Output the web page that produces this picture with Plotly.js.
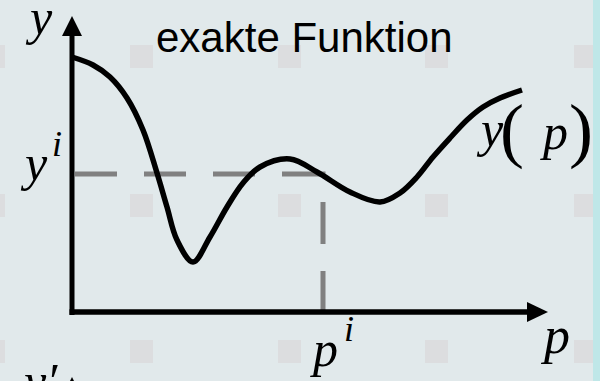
<!DOCTYPE html>
<html>
<head>
<meta charset="utf-8">
<script src="https://cdn.plot.ly/plotly-3.0.1.min.js"></script>
<style>html,body{margin:0;padding:0;background:#e1e9eb;}#chart{width:600px;height:381px;}</style>
</head>
<body>
<div id="chart"></div>
<script>
// Curve "exakte Funktion" y(p) (arbitrary units)
const pValues = [0, 2.1, 3.8, 5.5, 7.1, 8.5, 9.5, 10.5, 12.1, 13.8, 15.5, 17.1, 18.8, 21.8, 24.5, 27.8, 30.8, 32.8, 34.5, 36.1, 37.8, 39.5, 41.1, 42.8, 45.0];
const yValues = [25.5, 24.7, 23.5, 21.4, 18.2, 13.9, 10.5, 7.2, 5.0, 7.5, 10.5, 12.9, 14.5, 15.3, 14.0, 12.0, 11.0, 11.9, 13.5, 15.5, 17.4, 19.2, 20.5, 21.4, 22.2];
// Marked point (p^i, y^i)
const pI = 25.1;
const yI = 13.8;
// Labels
const titleText = "exakte Funktion";

const W = 600, H = 381;
const X = px => (px - 72) / 10;   // pixel -> data
const Y = py => (312 - py) / 10;
const fx = px => px / W, fy = py => 1 - py / H;

const traces = [
  {x: [X(75), pI, pI], y: [yI, yI, Y(310)], mode: 'lines',
   line: {color: '#808080', width: 5, dash: '42px,27px'}, hoverinfo: 'skip'},
  {x: pValues, y: yValues, mode: 'lines',
   line: {color: '#000000', width: 5.5, shape: 'spline', smoothing: 1}, hoverinfo: 'skip'}
];

const shapes = [];
const sqCols = [-18, 130, 278, 425, 574];
const sqRows = [45, 194, 340];
sqCols.forEach(c => sqRows.forEach(r => {
  shapes.push({type: 'rect', xref: 'paper', yref: 'paper', layer: 'below',
    x0: fx(c), x1: fx(c + 23), y0: fy(r + 23), y1: fy(r), line: {width: 0}, fillcolor: '#dcdddf'});
}));
shapes.push({type: 'rect', xref: 'paper', yref: 'paper', layer: 'below',
  x0: fx(593), x1: 1, y0: 0, y1: 1, line: {width: 0}, fillcolor: '#bfe7e8'});
// axes
shapes.push({type: 'line', xref: 'x', yref: 'y', x0: 0, x1: 0, y0: Y(315), y1: Y(34), line: {color: '#000', width: 5}});
shapes.push({type: 'line', xref: 'x', yref: 'y', x0: X(69.5), x1: X(530), y0: 0, y1: 0, line: {color: '#000', width: 5.5}});
shapes.push({type: 'path', xref: 'x', yref: 'y', fillcolor: '#000', line: {width: 0},
  path: `M ${X(72)} ${Y(16)} L ${X(62)} ${Y(36)} L ${X(82)} ${Y(36)} Z`});
shapes.push({type: 'path', xref: 'x', yref: 'y', fillcolor: '#000', line: {width: 0},
  path: `M ${X(548)} ${Y(312)} L ${X(527)} ${Y(302)} L ${X(527)} ${Y(322)} Z`});
// next panel arrow tip (cut off at bottom)
shapes.push({type: 'path', xref: 'paper', yref: 'paper', fillcolor: '#000', line: {width: 0},
  path: `M ${fx(72)} ${fy(377)} L ${fx(62)} ${fy(397)} L ${fx(82)} ${fy(397)} Z`});

const serif = 'Liberation Serif, Times New Roman, serif';
function ann(text, px, py, size, family, italic) {
  return {text: italic ? '<i>' + text + '</i>' : text, xref: 'paper', yref: 'paper',
    x: fx(px), y: fy(py), xanchor: 'center', yanchor: 'middle', showarrow: false,
    font: {family: family || serif, size: size, color: '#000'}};
}
const annotations = [
  ann(titleText, 304, 38, 42, 'Liberation Sans, Arial, sans-serif', false),
  ann('y', 39, 17, 50, serif, true),
  ann('y', 33.5, 163, 50, serif, true),
  ann('i', 57, 144, 36, serif, true),
  ann('y', 490, 129, 50, serif, true),
  ann('(', 512, 130, 72, serif, false),
  ann('p', 553.5, 132, 50, serif, true),
  ann(')', 580.5, 130, 72, serif, false),
  ann('p', 323.5, 349, 50, serif, true),
  ann('i', 349, 329, 36, serif, true),
  ann('p', 555, 335, 52, serif, true),
  ann('y′', 38, 381, 50, serif, true)
];

const layout = {
  width: W, height: H, margin: {l: 0, r: 0, t: 0, b: 0},
  paper_bgcolor: '#e1e9eb', plot_bgcolor: 'rgba(0,0,0,0)',
  showlegend: false,
  xaxis: {range: [X(0), X(W)], visible: false, fixedrange: true},
  yaxis: {range: [Y(H), Y(0)], visible: false, fixedrange: true},
  shapes: shapes, annotations: annotations
};
Plotly.newPlot('chart', traces, layout, {staticPlot: true, displayModeBar: false});
</script>
</body>
</html>
